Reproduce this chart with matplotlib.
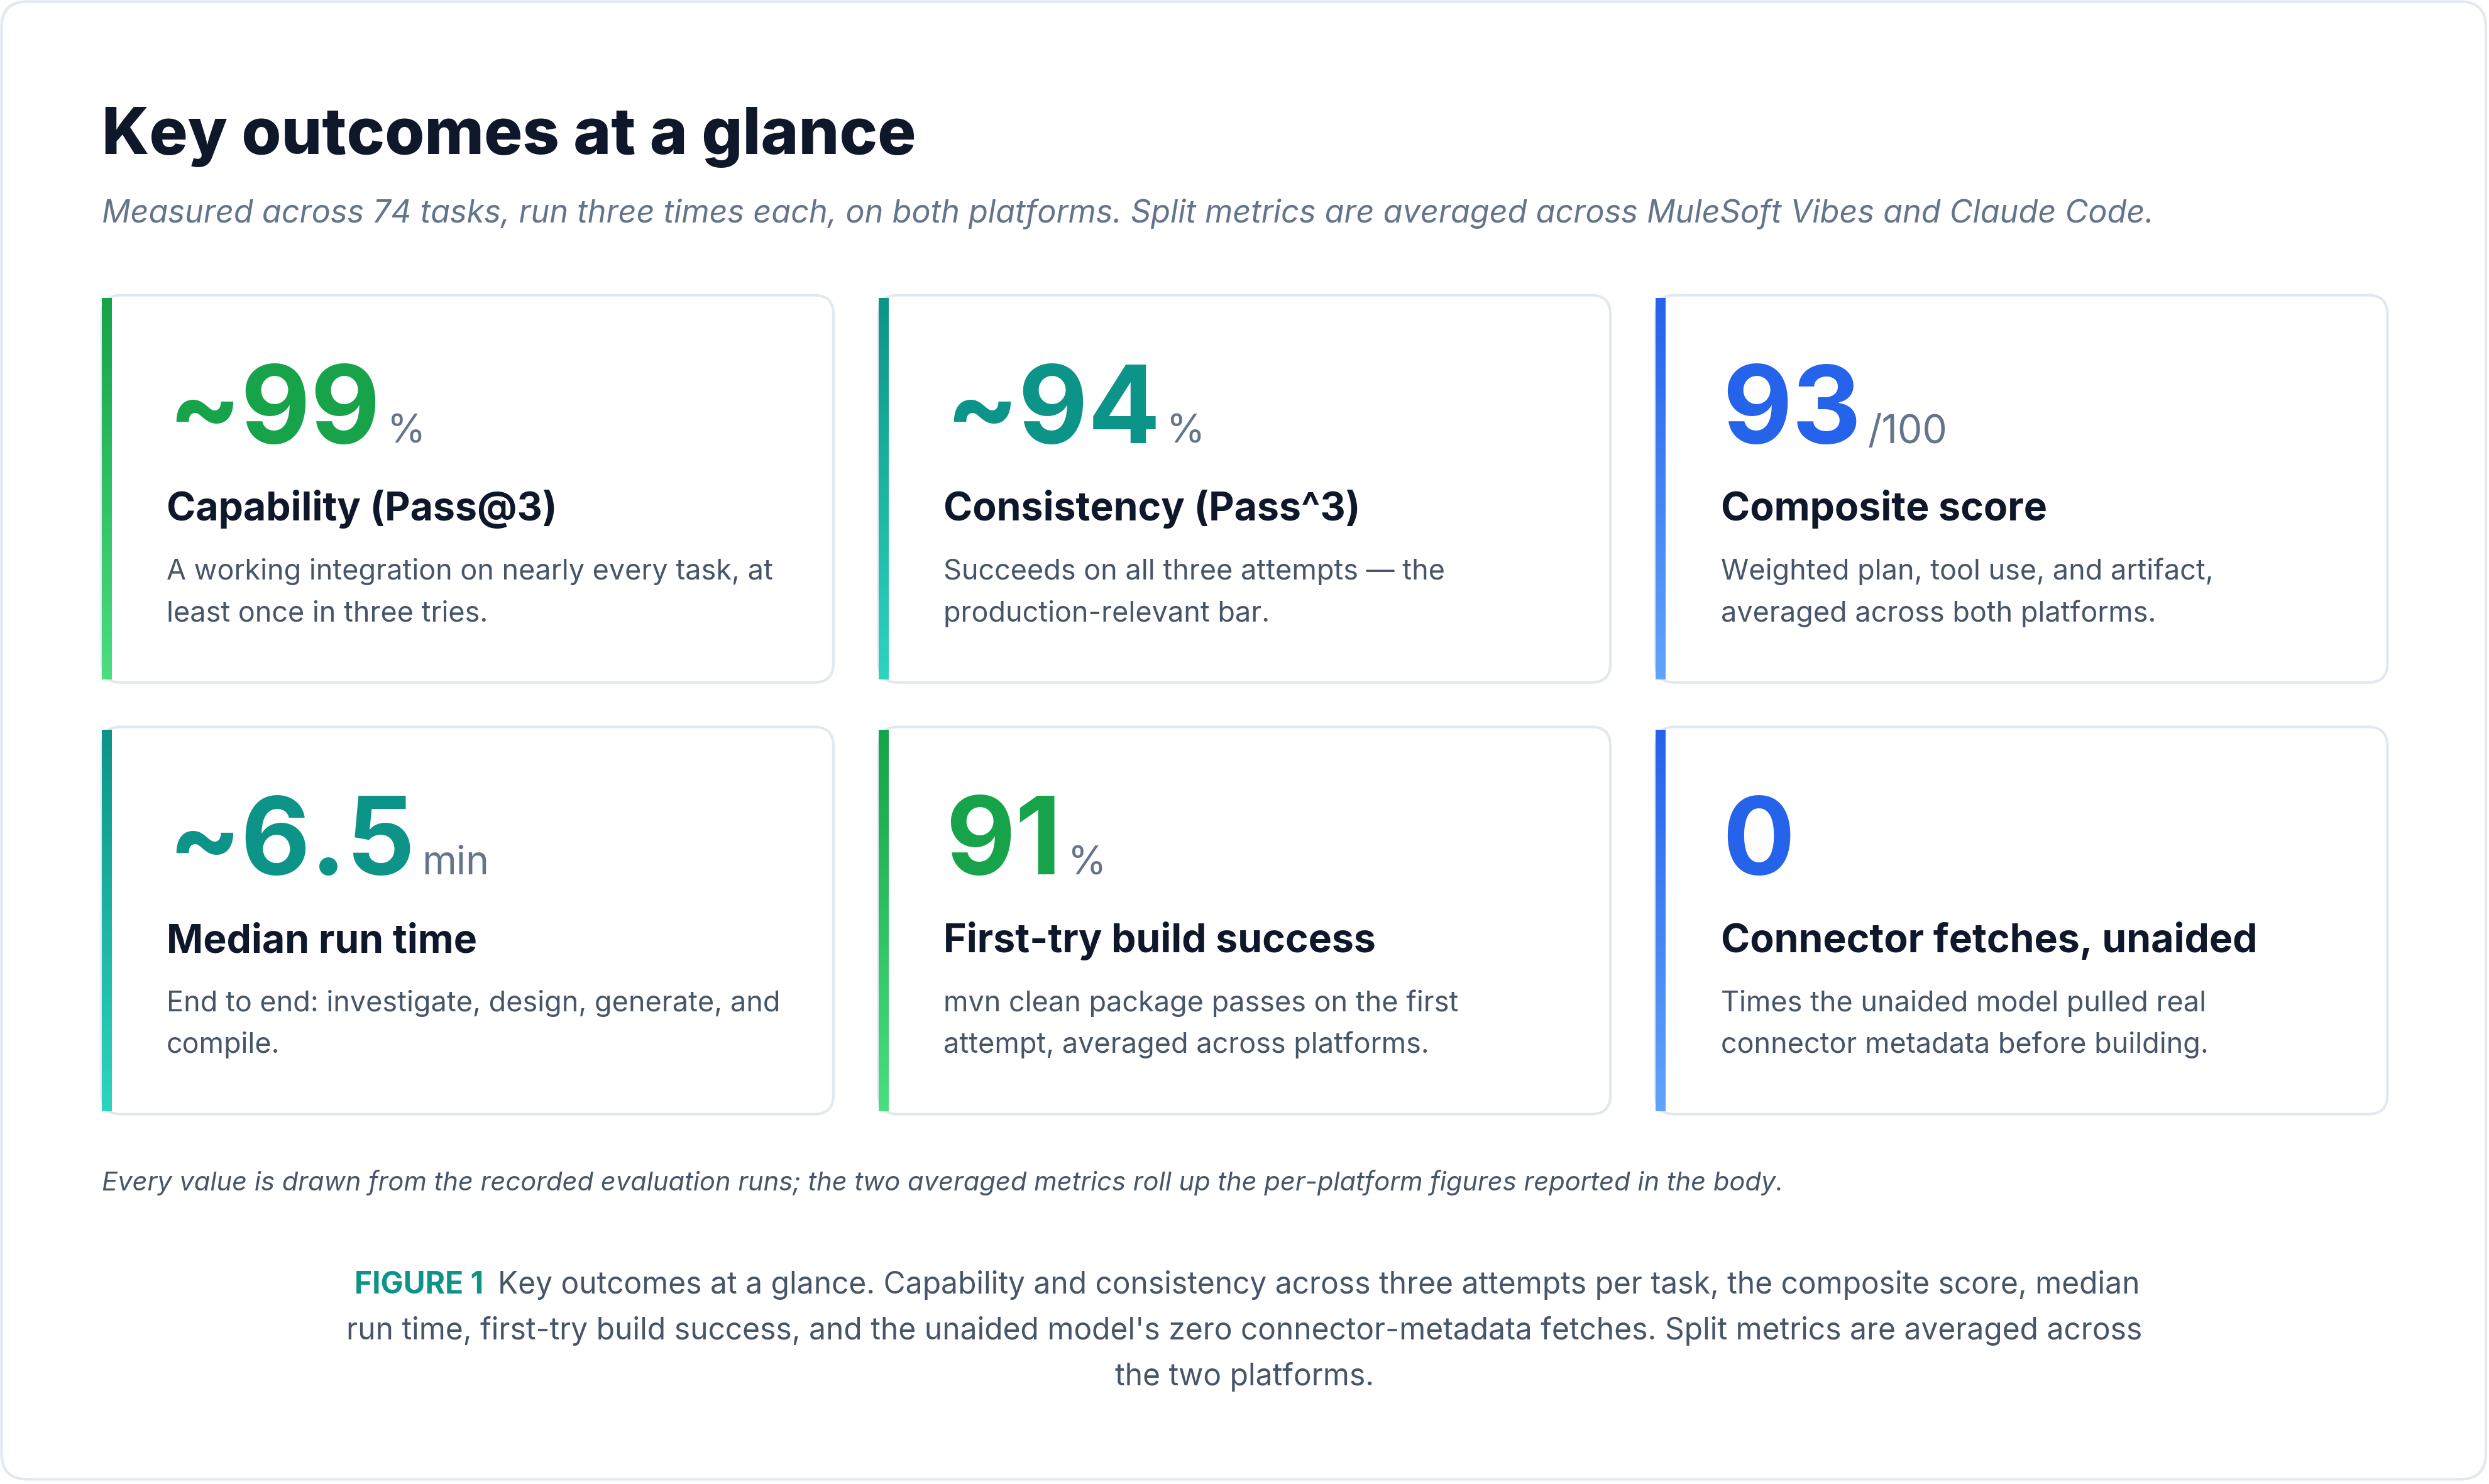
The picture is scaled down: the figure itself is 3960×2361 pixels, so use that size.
#!/usr/bin/env python3
# -*- coding: utf-8 -*-
"""
Key outcomes figure: six metric cards laid out on a 2x3 grid.
"""

import matplotlib.pyplot as plt # for the plotting
import numpy as np
from matplotlib.colors import LinearSegmentedColormap
from matplotlib.patches import FancyBboxPatch

plt.rcParams['font.family'] = ['Inter', 'DejaVu Sans']

W, H = 1568, 935 # layout units (scaled to 3960 x 2361 px)
DARK = "#0f172a"
GREY = "#475569"
MUTED = "#64748b"

GREEN = ("#16a34a", "#4ade80")
TEAL = ("#0d9488", "#2dd4bf")
BLUE = ("#2563eb", "#60a5fa")

cards = [
    ("~99", "%", "Capability (Pass@3)",
     "A working integration on nearly every task, at\nleast once in three tries.", GREEN),
    ("~94", "%", "Consistency (Pass^3)",
     "Succeeds on all three attempts \u2014 the\nproduction-relevant bar.", TEAL),
    ("93", "/100", "Composite score",
     "Weighted plan, tool use, and artifact,\naveraged across both platforms.", BLUE),
    ("~6.5", "min", "Median run time",
     "End to end: investigate, design, generate, and\ncompile.", TEAL),
    ("91", "%", "First-try build success",
     "mvn clean package passes on the first\nattempt, averaged across platforms.", GREEN),
    ("0", "", "Connector fetches, unaided",
     "Times the unaided model pulled real\nconnector metadata before building.", BLUE),
]


def draw_card(ax, renderer, x0, y0, card):
    """Draw one card with its top-left corner at (x0, y0)."""
    value, unit, title, desc, colours = card
    cw, ch = 461, 244
    ax.add_patch(FancyBboxPatch((x0, y0), cw, ch, boxstyle="round,pad=0,rounding_size=12",
                                fc="white", ec="#e2e8f0", lw=1.0, zorder=2))
    # gradient stripe on the left edge
    cmap = LinearSegmentedColormap.from_list("g", colours)
    grad = np.linspace(0, 1, 100).reshape(-1, 1)
    ax.imshow(grad, cmap=cmap, extent=(x0, x0 + 6, y0 + ch - 2, y0 + 2),
              aspect="auto", zorder=3)

    big = ax.text(x0 + 42, y0 + 93, value, fontsize=41, fontweight="bold",
                  color=colours[0], va="baseline", zorder=4)
    bb = big.get_window_extent(renderer).transformed(ax.transData.inverted())
    if unit:
        ax.text(bb.x1 + 4, y0 + 93, unit, fontsize=15, color=MUTED,
                va="baseline", zorder=4)
    ax.text(x0 + 41, y0 + 142, title, fontsize=15, fontweight="bold",
            color=DARK, va="baseline", zorder=4)
    for k, line in enumerate(desc.split("\n")):
        ax.text(x0 + 41, y0 + 179 + k * 26.5, line, fontsize=10.8, color=GREY,
                va="baseline", zorder=4)


def main():
    fig = plt.figure(figsize=(13.2, 7.87))
    ax = fig.add_axes([0, 0, 1, 1])
    ax.set_xlim(0, W)
    ax.set_ylim(H, 0)
    ax.axis("off")
    renderer = fig.canvas.get_renderer()

    # outer frame
    ax.add_patch(FancyBboxPatch((1, 1), W - 3, H - 4, boxstyle="round,pad=0,rounding_size=16",
                                fc="white", ec="#e2e8f0", lw=1.0, zorder=1))

    ax.text(64, 97, "Key outcomes at a glance", fontsize=24.5, fontweight="heavy",
            color=DARK, va="baseline")
    ax.text(64, 140, "Measured across 74 tasks, run three times each, on both platforms. "
            "Split metrics are averaged across MuleSoft Vibes and Claude Code.",
            fontsize=12.1, style="italic", color=MUTED, va="baseline")

    for i, card in enumerate(cards):
        col, row = i % 3, i // 3
        draw_card(ax, renderer, 64 + col * 489.5, 186 + row * 272, card)

    ax.text(64, 750, "Every value is drawn from the recorded evaluation runs; the two averaged "
            "metrics roll up the per-platform figures reported in the body.",
            fontsize=10, style="italic", color=GREY, va="baseline")

    # caption, first line has the bold label
    lab = ax.text(0, 815, "FIGURE 1", fontsize=11.5, fontweight="bold", color="#0d9488",
                  va="baseline")
    rest = ax.text(0, 815, "Key outcomes at a glance. Capability and consistency across three "
                   "attempts per task, the composite score, median", fontsize=11.5,
                   color=GREY, va="baseline")
    inv = ax.transData.inverted()
    w1 = lab.get_window_extent(renderer).transformed(inv).width
    w2 = rest.get_window_extent(renderer).transformed(inv).width
    start = W / 2 - (w1 + 10 + w2) / 2
    lab.set_x(start)
    rest.set_x(start + w1 + 10)
    ax.text(W / 2, 844, "run time, first-try build success, and the unaided model's zero "
            "connector-metadata fetches. Split metrics are averaged across",
            fontsize=11.5, color=GREY, va="baseline", ha="center")
    ax.text(W / 2, 873, "the two platforms.", fontsize=11.5, color=GREY,
            va="baseline", ha="center")

    fig.savefig("out.png", dpi=300)


if __name__ == "__main__":
    main()
